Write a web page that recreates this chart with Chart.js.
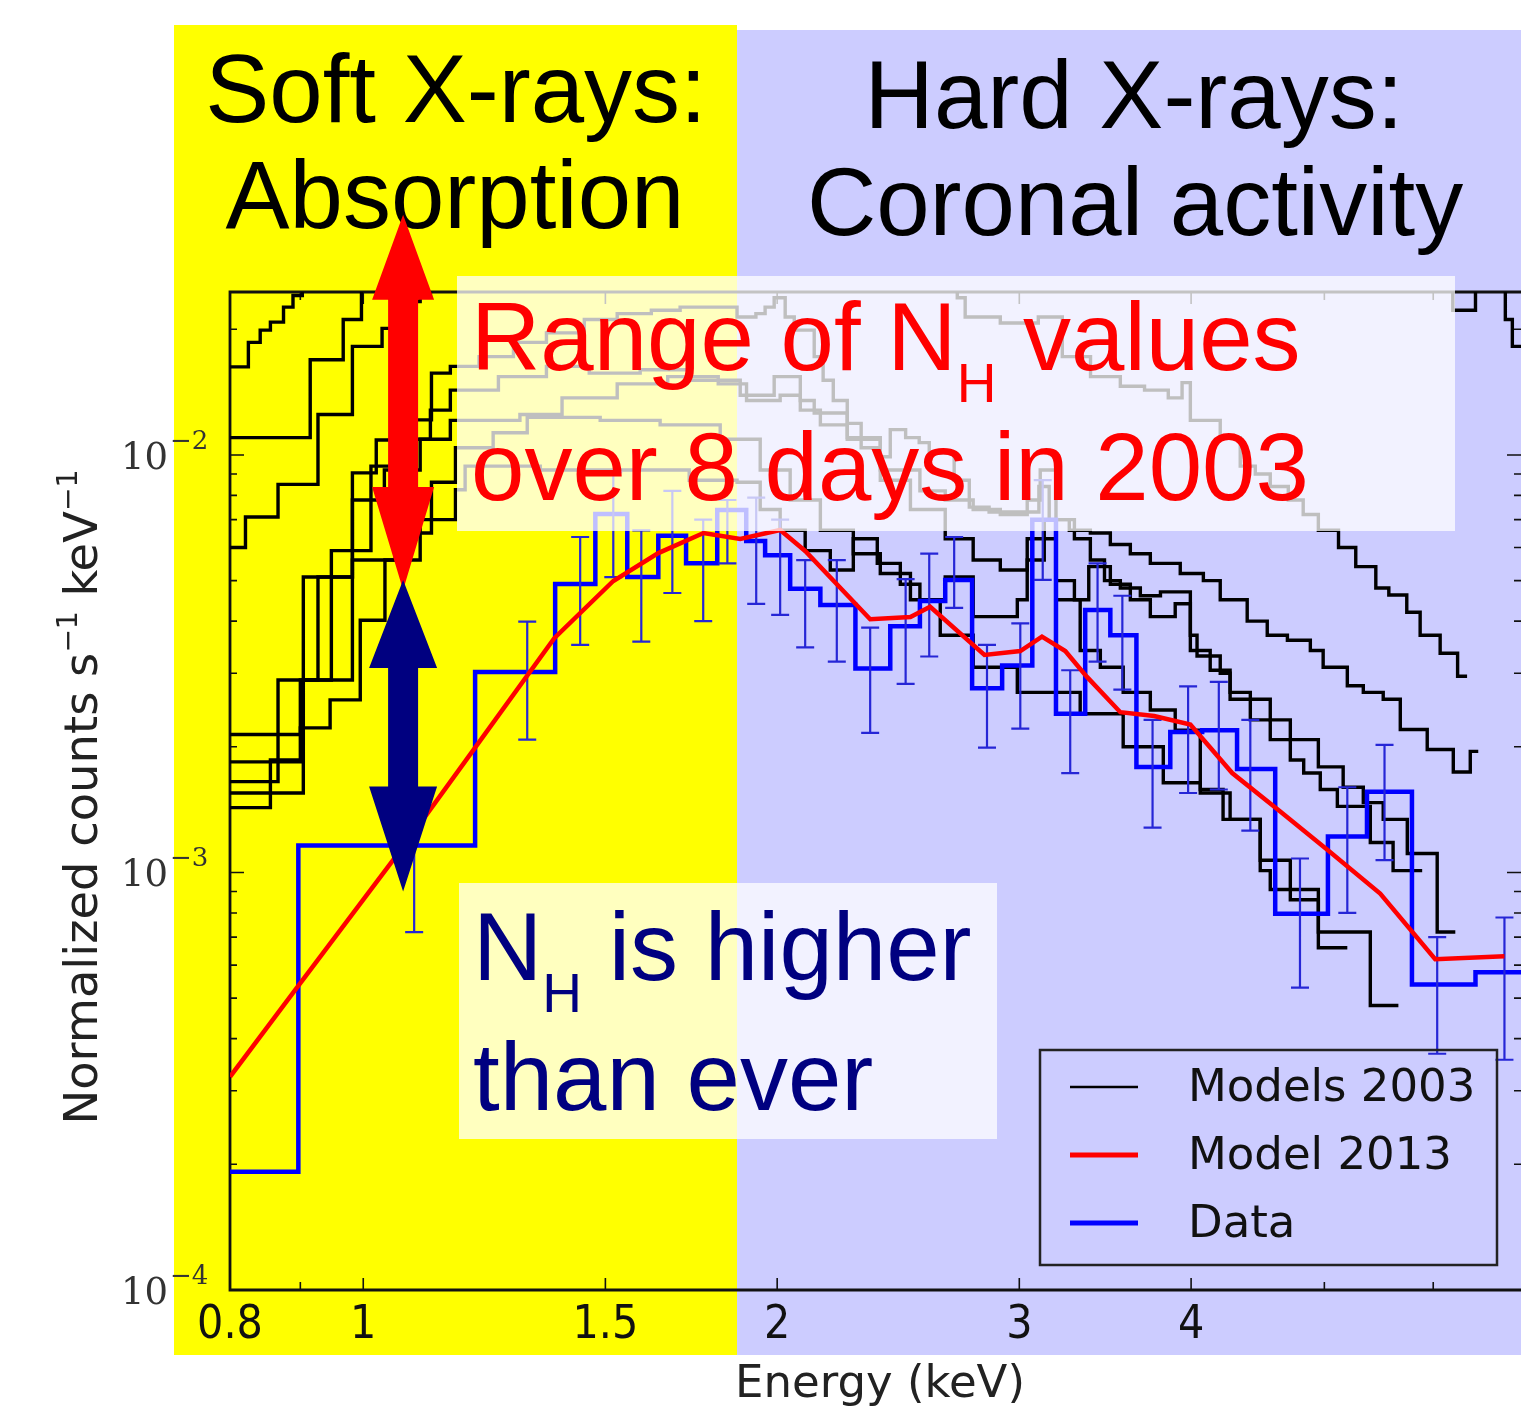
<!DOCTYPE html>
<html><head><meta charset="utf-8">
<script src="https://cdn.jsdelivr.net/npm/chart.js@4.4.1/dist/chart.umd.min.js"></script>
<style>html,body{margin:0;padding:0;background:#fff;overflow:hidden}#wrap{position:relative;width:1521px;height:1407px}</style>
</head><body><div id="wrap"><canvas id="c" width="1521" height="1407"></canvas></div>
<script>
// ---------------- DATA ----------------
const xTickValues = [0.8, 0.9, 1, 1.5, 2, 3, 4, 5, 6];
const xTickLabels = ['0.8', '', '1', '1.5', '2', '3', '4', '', ''];
const yMajorTicks = [1e-4, 1e-3, 1e-2];
const yMajorExp = ['\u22124', '\u22123', '\u22122'];
const yMinorTicks = [2e-4,3e-4,4e-4,5e-4,6e-4,7e-4,8e-4,9e-4,2e-3,3e-3,4e-3,5e-3,6e-3,7e-3,8e-3,9e-3,2e-2];

// Data (2013): histogram bin edges (keV) and normalized counts
const dataEdges = [0.800,0.897,1.206,1.379,1.475,1.556,1.639,1.717,1.809,1.899,1.96,2.044,2.15,2.28,2.417,2.54,2.65,2.772,2.915,3.066,3.19,3.35,3.494,3.65,3.863,4.075,4.32,4.605,5.03,5.37,5.79,6.44,6.95];
const dataCounts = [0.000192,0.00116,0.00302,0.00491,0.00722,0.00510,0.00640,0.00550,0.00738,0.00622,0.00575,0.00478,0.00437,0.00308,0.00389,0.00447,0.00502,0.00276,0.00313,0.00699,0.00240,0.00425,0.00370,0.00179,0.00217,0.00219,0.00177,0.000796,0.00122,0.00156,0.000539,0.000577];
const dataErrE  = [null,1.089,1.316,1.438,1.52,1.593,1.678,1.767,1.84,1.931,2.01,2.096,2.21,2.337,2.48,2.58,2.69,2.842,3.005,3.12,3.267,3.42,3.565,3.75,3.98,4.19,4.417,4.80,5.196,5.53,6.04,6.76];
const dataErrHi = [null,0.00158,0.00399,0.00636,0.0091,0.0066,0.0082,0.0070,0.0078,0.0079,0.0070,0.0056,0.0056,0.00386,0.00504,0.0058,0.00636,0.00351,0.00395,0.0087,0.00305,0.0055,0.0046,0.00232,0.00279,0.00286,0.00232,0.00108,0.00160,0.00202,0.00070,0.00078];
const dataErrLo = [null,0.00072,0.00208,0.00351,0.0051,0.00357,0.00467,0.0040,0.0055,0.0044,0.00414,0.00346,0.0032,0.00216,0.00283,0.00329,0.0043,0.00199,0.00221,0.00502,0.00173,0.0032,0.00274,0.00128,0.00155,0.00158,0.00126,0.00053,0.00080,0.00107,0.000368,0.000356];

// Model 2013
const model2013E = [0.800,0.898,1.075,1.206,1.377,1.52,1.639,1.768,1.88,2.01,2.096,2.337,2.50,2.584,2.83,3.005,3.116,3.24,3.36,3.553,3.76,3.995,4.285,4.644,5.03,5.49,6.02,6.76];
const model2013V = [0.000324,0.000538,0.00118,0.00199,0.00364,0.00499,0.00582,0.00650,0.00629,0.00661,0.00589,0.00404,0.00409,0.00433,0.00332,0.00339,0.00367,0.00339,0.00294,0.00242,0.00237,0.00226,0.00173,0.00140,0.00113,0.00089,0.00062,0.00063];

// Models 2003 (step histograms: [bin start keV, value], last point closes the final bin)
const model2003_a = [[0.800,0.01625],[0.825,0.0186],[0.8415,0.0199],[0.856,0.0208],[0.875,0.0226],[0.889,0.0241],[0.903,0.035],[6.95,0.035]];
const model2003_b = [[0.800,0.0110],[0.915,0.0169],[0.967,0.0211],[0.997,0.035],[2.704,0.0238],[2.74,0.0214],[2.906,0.0207],[3.097,0.0214],[3.224,0.0172],[3.38,0.0154],[3.553,0.0146],[3.70,0.0143],[3.85,0.0137],[3.94,0.0149],[3.995,0.0121],[4.20,0.0110],[4.343,0.0094],[4.454,0.0090],[4.567,0.0084],[4.707,0.0078],[4.826,0.0072],[4.95,0.0066],[5.12,0.0060],[5.27,0.0054],[5.45,0.0048],[5.57,0.00462],[5.74,0.0042],[5.87,0.0037],[6.07,0.00335],[6.25,0.00295],[6.35,0.00295]];
const model2003_c = [[0.800,0.0060],[0.821,0.0071],[0.867,0.0085],[0.927,0.0125],[0.982,0.0182],[1.032,0.0201],[1.055,0.0220],[1.082,0.0233],[1.100,0.0240],[1.119,0.035],[6.20,0.0222],[6.44,0.035],[6.77,0.0211],[6.85,0.0182],[6.95,0.0182]];
const model2003_d = [[0.800,0.00155],[0.9045,0.0051],[0.982,0.00906],[1.022,0.01086],[1.064,0.01213],[1.121,0.0157],[1.157,0.0163],[1.214,0.0172],[1.286,0.0186],[1.359,0.0196],[1.448,0.0211],[1.53,0.0218],[1.62,0.0222],[1.70,0.0226],[1.87,0.0214],[1.93,0.0218],[1.96,0.0226],[1.99,0.0238],[2.027,0.0214],[2.058,0.0199],[2.128,0.0172],[2.16,0.0151],[2.197,0.0135],[2.249,0.0119],[2.302,0.0104],[2.377,0.0099],[2.417,0.0115],[2.48,0.0110],[2.537,0.0107],[2.58,0.0101],[2.69,0.0087],[2.759,0.0075],[2.852,0.0073],[3.05,0.0073],[3.10,0.0084],[3.154,0.0070],[3.262,0.0066],[3.379,0.0065],[3.494,0.0061],[3.613,0.0058],[3.736,0.0055],[3.928,0.0052],[4.083,0.0050],[4.20,0.0045],[4.394,0.0040],[4.544,0.0037],[4.70,0.0036],[4.884,0.0034],[4.99,0.0031],[5.196,0.0028],[5.337,0.0027],[5.518,0.0026],[5.678,0.0022],[5.94,0.00197],[6.205,0.00174],[6.384,0.00195],[6.47,0.00195]];
const model2003_e = [[0.800,0.00214],[0.900,0.00289],[0.948,0.0059],[1.013,0.0094],[1.064,0.0109],[1.119,0.0128],[1.157,0.0143],[1.254,0.0154],[1.359,0.0163],[1.46,0.0157],[1.59,0.0160],[1.729,0.0151],[1.88,0.0139],[1.99,0.0154],[2.079,0.0135],[2.128,0.0126],[2.249,0.0110],[2.377,0.0092],[2.54,0.0082],[2.65,0.0078],[2.777,0.0074],[2.906,0.0072],[3.04,0.0078],[3.107,0.0092],[3.19,0.0070],[3.29,0.0063],[3.379,0.0056],[3.46,0.0050],[3.553,0.0048],[3.674,0.0046],[3.80,0.0047],[3.895,0.0047],[3.995,0.0037],[4.04,0.0033],[4.20,0.0030],[4.27,0.0027],[4.417,0.0026],[4.567,0.00232],[4.723,0.00208],[4.95,0.00179],[5.16,0.00160],[5.337,0.00147],[5.518,0.00134],[5.745,0.00111],[6.04,0.00072],[6.226,0.00072]];
const model2003_f = [[0.800,0.00165],[0.867,0.00289],[0.927,0.0051],[0.982,0.0078],[1.036,0.0092],[1.100,0.0109],[1.157,0.0121],[1.30,0.0125],[1.395,0.0137],[1.53,0.0148],[1.665,0.0154],[1.812,0.0148],[1.90,0.0135],[2.01,0.0139],[2.079,0.0128],[2.15,0.0118],[2.249,0.0109],[2.377,0.0087],[2.50,0.0074],[2.65,0.0063],[2.777,0.0056],[2.906,0.0053],[3.04,0.0063],[3.128,0.0070],[3.19,0.0050],[3.29,0.0045],[3.37,0.0054],[3.494,0.0049],[3.613,0.0045],[3.736,0.0041],[3.895,0.0044],[3.995,0.0034],[4.13,0.00305],[4.27,0.0026],[4.417,0.00232],[4.567,0.00208],[4.723,0.00186],[4.83,0.00173],[4.966,0.00158],[5.11,0.00144],[5.40,0.00118],[5.61,0.00101],[5.89,0.00101]];
const model2003_g = [[0.800,0.00184],[0.9045,0.00289],[0.982,0.0056],[1.055,0.0065],[1.121,0.0086],[1.167,0.0104],[1.243,0.0113],[1.316,0.0123],[1.487,0.0121],[1.644,0.0118],[1.818,0.0109],[1.944,0.0092],[2.044,0.0078],[2.15,0.0066],[2.272,0.0058],[2.377,0.0052],[2.50,0.0045],[2.628,0.0037],[2.777,0.0031],[2.99,0.0027],[3.175,0.0027],[3.322,0.0024],[3.57,0.0020],[3.818,0.00164],[4.062,0.00158],[4.22,0.00134],[4.491,0.00107],[4.723,0.00086],[4.95,0.00066],[5.196,0.00066]];
const model2003_h = [[0.800,0.00143],[0.856,0.00186],[0.900,0.00222],[0.946,0.00259],[0.995,0.00402],[1.037,0.0056],[1.100,0.0070],[1.167,0.00825],[1.186,0.0094],[1.345,0.0092],[1.52,0.0092],[1.726,0.0087],[1.87,0.0086],[1.944,0.0074],[2.01,0.0066],[2.096,0.0059],[2.186,0.0053],[2.272,0.0063],[2.365,0.0055],[2.458,0.0049],[2.54,0.0045],[2.65,0.0051],[2.777,0.0041],[2.99,0.0045],[3.04,0.0056],[3.128,0.0063],[3.19,0.0045],[3.322,0.0034],[3.436,0.0031],[3.57,0.0027],[3.736,0.00245],[3.895,0.00219],[4.062,0.00155],[4.27,0.00134],[4.491,0.00101],[4.567,0.00091],[4.95,0.00072],[5.40,0.00048],[5.66,0.00048]];

// Annotation arrows (energy, [top value, bottom value])
const arrowE = 1.069;
const arrowRange2003 = [0.0376, 0.00475];
const arrowRange2013 = [0.00502, 0.00090];

// ---------------- BUILD ----------------
const models2003 = [model2003_a, model2003_b, model2003_c, model2003_d, model2003_e, model2003_f, model2003_g, model2003_h];
const toXY = arr => arr.map(p => ({x: p[0], y: p[1]}));
const stepXY = (edges, vals) => { const o = vals.map((v, i) => ({x: edges[i], y: v})); o.push({x: edges[edges.length - 1], y: vals[vals.length - 1]}); return o; };

const datasets = [
  {label: 'Model 2013', data: model2013E.map((e, i) => ({x: e, y: model2013V[i]})), borderColor: '#ff0000', borderWidth: 4.5, pointRadius: 0, fill: false, tension: 0},
  {label: 'Data', data: stepXY(dataEdges, dataCounts), borderColor: '#0000ff', borderWidth: 4.5, pointRadius: 0, fill: false, stepped: true}
];
models2003.forEach((m) => datasets.push({label: 'Models 2003', data: toXY(m), borderColor: '#000000', borderWidth: 3.4, pointRadius: 0, fill: false, stepped: true}));

const BIG = '96px "Liberation Sans", Arial, sans-serif';
const SUB = '55px "Liberation Sans", Arial, sans-serif';

function richText(c, parts, x, y, align) {
  let total = 0;
  parts.forEach(p => { c.font = p.font; p.w = c.measureText(p.t).width; total += p.w; });
  let cx = align === 'center' ? x - total / 2 : x;
  c.textAlign = 'left';
  parts.forEach(p => { c.font = p.font; c.fillText(p.t, cx, y + (p.dy || 0)); cx += p.w; });
  return total;
}

function arrow(c, x, yTop, yBot, headTop, headBot, halfHead, halfShaft, color) {
  c.fillStyle = color;
  c.beginPath();
  c.moveTo(x, yTop);
  c.lineTo(x + halfHead, yTop + headTop);
  c.lineTo(x + halfShaft, yTop + headTop);
  c.lineTo(x + halfShaft, yBot - headBot);
  c.lineTo(x + halfHead, yBot - headBot);
  c.lineTo(x, yBot);
  c.lineTo(x - halfHead, yBot - headBot);
  c.lineTo(x - halfShaft, yBot - headBot);
  c.lineTo(x - halfShaft, yTop + headTop);
  c.lineTo(x - halfHead, yTop + headTop);
  c.closePath();
  c.fill();
}

const deco = {
  id: 'deco',
  beforeDraw(chart) {
    const c = chart.ctx;
    c.save();
    c.fillStyle = '#ffffff'; c.fillRect(0, 0, chart.width, chart.height);
    c.fillStyle = '#ffff00'; c.fillRect(174, 25, 563, 1330);
    c.fillStyle = '#ccccff'; c.fillRect(737, 30, 784, 1325);
    c.restore();
  },
  beforeDatasetsDraw(chart) {
    const c = chart.ctx, a = chart.chartArea, xs = chart.scales.x, ys = chart.scales.y;
    c.save();
    c.strokeStyle = '#111'; c.lineWidth = 1.6;
    c.beginPath();
    xTickValues.forEach((v, i) => {
      const px = xs.getPixelForValue(v), L = xTickLabels[i] ? 12 : 8;
      c.moveTo(px, a.bottom); c.lineTo(px, a.bottom - L);
      c.moveTo(px, a.top); c.lineTo(px, a.top + L);
    });
    yMajorTicks.forEach(v => { const py = ys.getPixelForValue(v);
      c.moveTo(a.left, py); c.lineTo(a.left + 14, py); c.moveTo(a.right, py); c.lineTo(a.right - 14, py); });
    yMinorTicks.forEach(v => { const py = ys.getPixelForValue(v);
      c.moveTo(a.left, py); c.lineTo(a.left + 7, py); c.moveTo(a.right, py); c.lineTo(a.right - 7, py); });
    c.stroke();
    c.lineWidth = 2.8;
    c.beginPath();
    c.moveTo(a.right + 2, a.top); c.lineTo(a.left, a.top); c.lineTo(a.left, a.bottom); c.lineTo(a.right + 2, a.bottom);
    c.stroke();
    c.restore();
  },
  afterDatasetDraw(chart, args) {
    if (args.index !== 1) return;
    const c = chart.ctx, a = chart.chartArea, xs = chart.scales.x, ys = chart.scales.y;
    c.save();
    c.beginPath(); c.rect(a.left, a.top, a.right - a.left, a.bottom - a.top); c.clip();
    c.strokeStyle = '#2626d6'; c.lineWidth = 2.2;
    c.beginPath();
    dataErrE.forEach((e, i) => {
      if (e == null) return;
      const px = xs.getPixelForValue(e), yh = ys.getPixelForValue(dataErrHi[i]), yl = ys.getPixelForValue(dataErrLo[i]);
      c.moveTo(px, yh); c.lineTo(px, yl);
      c.moveTo(px - 9, yh); c.lineTo(px + 9, yh);
      c.moveTo(px - 9, yl); c.lineTo(px + 9, yl);
    });
    c.stroke();
    c.restore();
  },
  afterDraw(chart) {
    const c = chart.ctx, xs = chart.scales.x, ys = chart.scales.y;
    c.save();
    // translucent text boxes
    c.fillStyle = 'rgba(255,255,255,0.75)';
    c.fillRect(457, 276, 998, 255);
    c.fillRect(459, 883, 538, 256);

    // y tick labels (10^n)
    c.fillStyle = '#333';
    yMajorTicks.forEach((v, i) => {
      const py = ys.getPixelForValue(v);
      c.font = '37px "DejaVu Serif", serif'; c.textAlign = 'right'; c.textBaseline = 'alphabetic';
      c.fillText('10', 168, py + 14);
      c.font = '26px "DejaVu Serif", serif'; c.textAlign = 'left';
      c.fillText(yMajorExp[i], 170, py - 6);
    });

    // y axis title (rotated)
    c.save();
    c.translate(97, 797); c.rotate(-Math.PI / 2);
    c.fillStyle = '#222'; c.textBaseline = 'alphabetic';
    const tparts = [
      {t: 'Normalized counts s', font: '46px "DejaVu Sans Condensed", "DejaVu Sans", sans-serif'},
      {t: '\u22121', font: '28px "DejaVu Sans Condensed", "DejaVu Sans", sans-serif', dy: -20},
      {t: ' keV', font: '46px "DejaVu Sans Condensed", "DejaVu Sans", sans-serif'},
      {t: '\u22121', font: '28px "DejaVu Sans Condensed", "DejaVu Sans", sans-serif', dy: -20}
    ];
    let tw = 0; tparts.forEach(p => { c.font = p.font; tw += c.measureText(p.t).width; });
    c.scale(655 / tw, 1);
    richText(c, tparts, 0, 0, 'center');
    c.restore();

    // x axis title
    c.fillStyle = '#222'; c.textBaseline = 'alphabetic'; c.textAlign = 'center';
    c.font = '45px "DejaVu Sans", sans-serif';
    c.fillText('Energy (keV)', 880, 1397);

    // region headings
    c.fillStyle = '#000'; c.font = BIG; c.textAlign = 'center';
    c.fillText('Soft X-rays:', 456, 122);
    c.fillText('Absorption', 455, 228);
    c.fillText('Hard X-rays:', 1134, 128);
    c.fillText('Coronal activity', 1135, 235);

    // red annotation
    c.fillStyle = '#ff0000';
    richText(c, [{t: 'Range of N', font: BIG}, {t: 'H', font: SUB, dy: 32}, {t: ' values', font: BIG}], 471, 370, 'left');
    c.font = BIG; c.textAlign = 'left';
    c.fillText('over 8 days in 2003', 471, 500);

    // navy annotation
    c.fillStyle = '#000080';
    richText(c, [{t: 'N', font: BIG}, {t: 'H', font: SUB, dy: 32}, {t: ' is higher', font: BIG}], 473, 980, 'left');
    c.font = BIG; c.textAlign = 'left';
    c.fillText('than ever', 473, 1110);

    // arrows
    const ax = xs.getPixelForValue(arrowE);
    arrow(c, ax, ys.getPixelForValue(arrowRange2003[0]), ys.getPixelForValue(arrowRange2003[1]), 85, 103, 31, 15, '#ff0000');
    arrow(c, ax, ys.getPixelForValue(arrowRange2013[0]), ys.getPixelForValue(arrowRange2013[1]), 88, 105, 34, 15, '#000080');

    // legend
    c.strokeStyle = '#222'; c.lineWidth = 2.5;
    c.strokeRect(1040, 1050, 457, 215);
    const leg = [['Models 2003', '#000000', 2.6, 1087], ['Model 2013', '#ff0000', 5, 1155], ['Data', '#0000ff', 5, 1223]];
    leg.forEach(l => {
      c.strokeStyle = l[1]; c.lineWidth = l[2];
      c.beginPath(); c.moveTo(1070, l[3]); c.lineTo(1138, l[3]); c.stroke();
      c.fillStyle = '#111'; c.font = '45px "DejaVu Sans", sans-serif'; c.textAlign = 'left'; c.textBaseline = 'middle';
      c.fillText(l[0], 1188, l[3] + 2);
    });
    c.restore();
  }
};

new Chart(document.getElementById('c'), {
  type: 'line',
  data: {datasets},
  options: {
    responsive: false, animation: false, devicePixelRatio: 1, events: [],
    layout: {padding: {top: 292, left: 0, right: 0, bottom: 0}},
    plugins: {legend: {display: false}, tooltip: {enabled: false}},
    scales: {
      x: {
        type: 'logarithmic', position: 'bottom', min: 0.8, max: 6.95,
        afterBuildTicks: s => { s.ticks = xTickValues.map(v => ({value: v})); },
        afterFit: s => { s.height = 117; },
        grid: {display: false}, border: {display: false},
        ticks: {autoSkip: false, maxRotation: 0, minRotation: 0, padding: 0, color: '#111',
          font: {family: '"DejaVu Sans Condensed", "DejaVu Sans", sans-serif', size: 46},
          callback: (v) => { const i = xTickValues.indexOf(v); return i >= 0 ? xTickLabels[i] : ''; }}
      },
      y: {
        type: 'logarithmic', position: 'left', min: 1e-4, max: 0.02456,
        afterBuildTicks: s => { s.ticks = yMajorTicks.concat(yMinorTicks).map(v => ({value: v})); },
        afterFit: s => { s.width = 230; },
        grid: {display: false}, border: {display: false},
        ticks: {display: false}
      }
    }
  },
  plugins: [deco]
});
</script></body></html>
